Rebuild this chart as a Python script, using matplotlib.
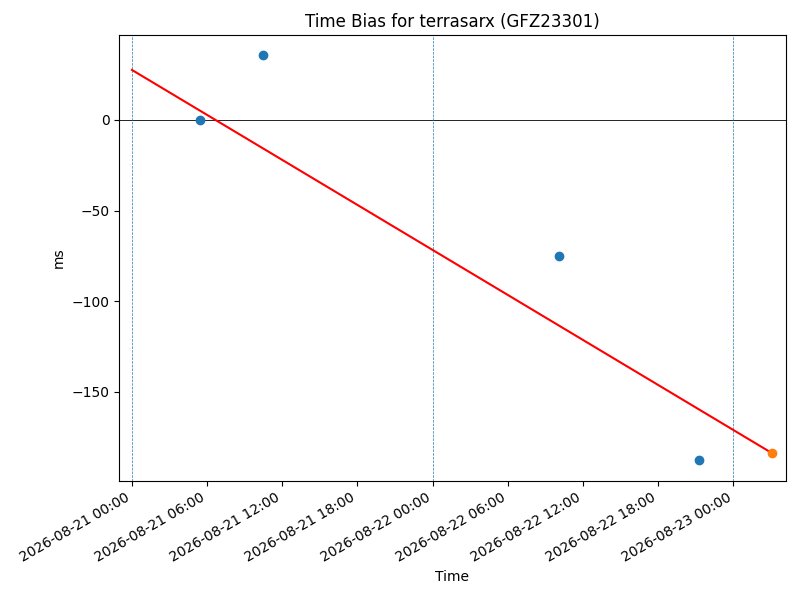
import matplotlib
matplotlib.use("Agg")
import matplotlib.pyplot as plt
import matplotlib.dates as mdates
import pandas as pd

obs_times = ["2026-08-21 05:26", "2026-08-21 10:27", "2026-08-22 10:06", "2026-08-22 21:17"]
obs_bias_ms = [-0.2, 35.7, -74.8, -187.7]
pred_time = ["2026-08-23 03:06"]
pred_bias_ms = [-183.8]
fit_times = ["2026-08-21 00:00", "2026-08-23 03:06"]
fit_bias_ms = [27.6, -183.8]
day_lines = ["2026-08-21", "2026-08-22", "2026-08-23"]
x_limits = ["2026-08-20 22:59", "2026-08-23 04:10"]

obs_t = pd.to_datetime(obs_times)
pred_t = pd.to_datetime(pred_time)
fit_t = pd.to_datetime(fit_times)

fig, ax = plt.subplots(figsize=(8, 6), dpi=100)
ax.axhline(0, color="black", linewidth=0.6)
for d in pd.to_datetime(day_lines):
    ax.axvline(d, color="C0", linestyle="--", linewidth=0.5)
ax.scatter(obs_t, obs_bias_ms, color="C0", zorder=3)
ax.plot(fit_t, fit_bias_ms, color="red", zorder=3)
ax.scatter(pred_t, pred_bias_ms, color="C1", zorder=4)

ax.set_xlim(pd.to_datetime(x_limits))
ax.xaxis.set_major_locator(mdates.HourLocator(byhour=[0, 6, 12, 18]))
ax.xaxis.set_major_formatter(mdates.DateFormatter("%Y-%m-%d %H:%M"))
ax.set_title("Time Bias for terrasarx (GFZ23301)")
ax.set_xlabel("Time")
ax.set_ylabel("ms")
fig.autofmt_xdate()
fig.subplots_adjust(left=0.149, right=0.982, top=0.9417, bottom=0.199)
fig.savefig("out.png", dpi=100)
